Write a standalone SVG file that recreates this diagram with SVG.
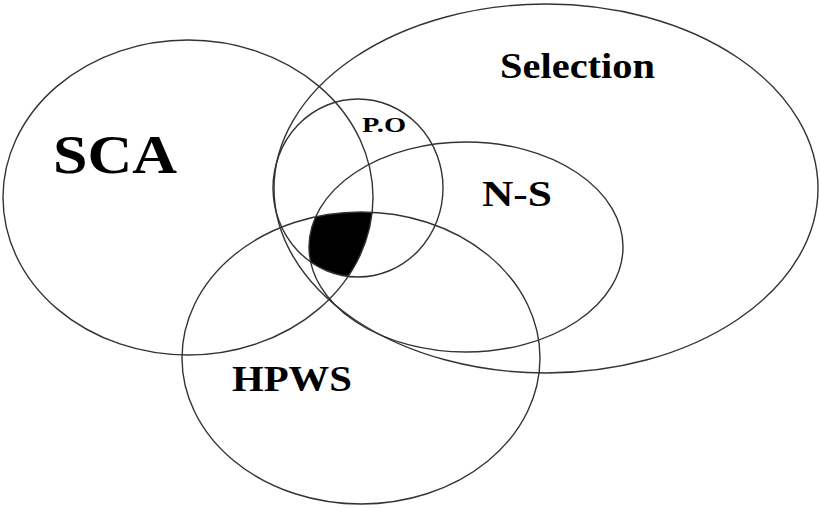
<svg xmlns="http://www.w3.org/2000/svg" width="820" height="508" viewBox="0 0 820 508">
  <style>
    .set { fill: none; stroke: #333; stroke-width: 1.4; }
    .lbl { font-family: "Liberation Serif", "Times New Roman", serif; font-weight: bold; fill: #000; }
  </style>
  <defs>
    <clipPath id="cSCA"><ellipse cx="188" cy="197.5" rx="185" ry="157.5"/></clipPath>
    <clipPath id="cPO"><ellipse cx="358" cy="188" rx="85" ry="89"/></clipPath>
    <clipPath id="cHPWS"><ellipse cx="361" cy="358" rx="179" ry="146"/></clipPath>
  </defs>
  <rect width="820" height="508" fill="#fff"/>

  <g id="core">
    <g clip-path="url(#cSCA)">
      <g clip-path="url(#cPO)">
        <g clip-path="url(#cHPWS)">
          <ellipse cx="466" cy="247" rx="157" ry="105" fill="#000"/>
        </g>
      </g>
    </g>
  </g>

  <g id="SCA">
    <ellipse class="set" cx="188" cy="197.5" rx="185" ry="157.5"/>
    <text class="lbl" x="53" y="173" font-size="55" textLength="124" lengthAdjust="spacingAndGlyphs">SCA</text>
  </g>
  <g id="Selection">
    <ellipse class="set" cx="546" cy="188.5" rx="272" ry="184.5"/>
    <text class="lbl" x="500" y="78" font-size="35" textLength="155" lengthAdjust="spacingAndGlyphs">Selection</text>
  </g>
  <g id="PO">
    <ellipse class="set" cx="358" cy="188" rx="85" ry="89"/>
    <text class="lbl" x="362" y="132" font-size="21" textLength="44" lengthAdjust="spacingAndGlyphs">P.O</text>
  </g>
  <g id="NS">
    <ellipse class="set" cx="466" cy="247" rx="157" ry="105"/>
    <text class="lbl" x="482" y="206" font-size="35" textLength="70" lengthAdjust="spacingAndGlyphs">N-S</text>
  </g>
  <g id="HPWS">
    <ellipse class="set" cx="361" cy="358" rx="179" ry="146"/>
    <text class="lbl" x="232" y="391" font-size="35" textLength="120" lengthAdjust="spacingAndGlyphs">HPWS</text>
  </g>
  <g id="connectors"/>
</svg>
